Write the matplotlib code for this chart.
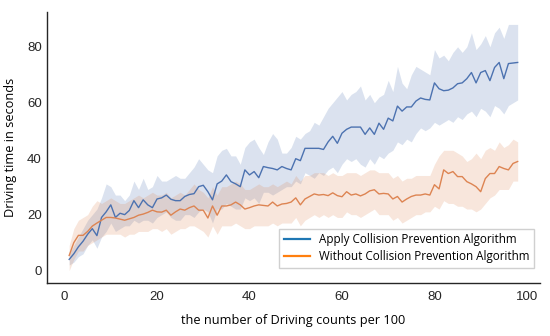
import numpy as np
import matplotlib
matplotlib.use('Agg')
import matplotlib.pyplot as plt
from matplotlib.lines import Line2D

plt.rcParams['font.family'] = ['Open Sans', 'DejaVu Sans']

# driving counts (x 100)
counts = list(range(1, 99))

# Apply Collision Prevention Algorithm: mean and band
apply_mean = [4, 6, 8.5, 10.5, 13, 15, 12.5, 19, 21, 23.5,
              19, 20.5, 20, 21.5, 25, 22.5, 25.3, 23.5, 22.5, 25.6,
              26, 27, 25.5, 25, 25, 26.5, 27.2, 27.5, 30, 30.5,
              28.2, 25.3, 31, 32, 34.2, 31.8, 31, 30, 36, 34.2,
              35.4, 33.2, 37.2, 36.8, 36.5, 36, 37.2, 36.5, 36, 40,
              39.3, 43.7, 43.7, 43.7, 43.7, 43.3, 46, 48, 45.5, 49.1,
              50.5, 51.3, 51.3, 51.3, 48.7, 51, 48.7, 52.7, 50.5, 54.5,
              53.5, 58.8, 57, 58.5, 58.5, 60.6, 61.7, 61.2, 61, 67.1,
              65, 64.3, 64.5, 65.3, 66.8, 67.1, 68.6, 70.8, 67.1, 70.8,
              71.5, 67.9, 72.6, 74.4, 68.6, 74, 74.2, 74.4]
apply_hi = [6, 9, 12, 15, 18, 20, 22, 26, 31, 30,
            27, 27, 25, 27, 32, 29, 33, 29, 30, 34,
            32, 32, 33, 34, 33, 33, 35, 37, 40, 38,
            36, 35, 41, 43, 43.7, 41, 41, 38, 44, 46,
            47, 44, 41.5, 46, 49, 47, 42, 42, 44, 48,
            47, 49, 50, 53, 52, 55, 58, 60, 62, 64,
            61, 63, 64, 66, 61, 63, 60, 62, 63, 68,
            64, 73, 67, 65, 70, 73, 72, 71, 70, 79,
            76, 77, 75, 78, 80, 78, 80, 85, 79, 81,
            84, 80, 85, 87, 83, 88, 88, 88]
apply_lo = [2, 3, 5, 6, 9, 11, 8, 12, 14, 17,
            14, 15, 16, 16, 18, 17, 18, 18, 17, 19,
            20, 21, 19, 18, 18, 20, 20, 19, 21, 22,
            21, 17, 22, 22, 24, 23, 22, 22, 26, 25,
            26, 24, 28, 28, 27, 28, 29, 30, 30, 32,
            31, 35, 34, 33, 35, 34, 36, 37, 35, 38,
            40, 39, 40, 38, 37, 40, 38, 41, 40, 42,
            43, 46, 45, 47, 46, 49, 51, 50, 51, 53,
            52, 53, 54, 53, 55, 54, 56, 57, 55, 58,
            57, 55, 59, 58, 56, 59, 60, 61]

# Without Collision Prevention Algorithm: mean and band
without_mean = [5.4, 10, 12.6, 12.6, 14, 15.9, 17, 18, 19, 19,
                18.8, 18.4, 18, 18.5, 19, 19.8, 20.2, 20.8, 21.6, 21,
                20.9, 21.6, 19.8, 21, 22, 21.6, 22.5, 23.1, 21.6, 21.6,
                18.8, 23.1, 19.8, 23.1, 23.1, 23.5, 24.5, 23.5, 22, 22.5,
                23.1, 23.5, 23.3, 23.1, 24.5, 23.1, 23.8, 24, 24.5, 26,
                23.5, 25.6, 26.5, 27.4, 27, 27.2, 26.8, 27.8, 26.8, 26.4,
                28.2, 27, 27.4, 26.7, 27.4, 28.5, 28.9, 27.4, 27.6, 27.4,
                25.6, 26.5, 24.5, 25.6, 26.5, 27, 27, 27.4, 27, 30.7,
                29.2, 36, 34.7, 35.4, 33.6, 33.6, 31.8, 31, 30, 28.2,
                32.9, 34.7, 34.7, 37.2, 36.5, 36, 38.3, 39]
without_hi = [9, 15, 18, 19, 20, 23, 25, 24, 25, 26,
              25, 24, 24, 25, 26, 27, 26, 27, 28, 27,
              27, 28, 26, 27, 28, 27, 29, 31, 29, 28,
              26, 30, 27, 30, 30, 31, 32, 31, 29, 29,
              30, 31, 30, 30, 31, 30, 31, 32, 31, 34,
              32, 34, 34, 35, 35, 35, 34, 35, 34, 34,
              35, 35, 35, 34, 35, 36, 36, 35, 35, 35,
              33, 34, 32, 33, 33, 34, 34, 34, 34, 38,
              41, 43, 43, 43, 42, 41, 39, 40, 42, 40,
              43, 44, 43, 46, 44, 45, 47, 46]
without_lo = [0, 4, 7, 7, 9, 10, 11, 12, 13, 13,
              13, 13, 12, 13, 13, 14, 14, 14, 15, 15,
              14, 15, 13, 14, 15, 15, 16, 16, 15, 14,
              12, 16, 13, 16, 16, 16, 17, 16, 15, 15,
              16, 16, 16, 16, 17, 16, 17, 17, 17, 19,
              16, 18, 19, 20, 19, 20, 19, 20, 19, 19,
              21, 20, 20, 19, 20, 21, 22, 20, 20, 20,
              18, 19, 17, 18, 19, 20, 20, 21, 21, 23,
              22, 25, 24, 24, 23, 23, 22, 22, 21, 22,
              24, 26, 27, 29, 29, 29, 32, 32]

blue = '#4c72b0'
orange = '#dd8452'

fig = plt.figure(figsize=(5.5, 3.36), dpi=100)
ax = fig.add_axes([0.085, 0.158, 0.897, 0.806])

ax.fill_between(counts, apply_lo, apply_hi, color=blue, alpha=0.2, linewidth=0)
ax.fill_between(counts, without_lo, without_hi, color=orange, alpha=0.2, linewidth=0)
ax.plot(counts, apply_mean, color=blue, lw=1)
ax.plot(counts, without_mean, color=orange, lw=1)

ax.set_xticks([0, 20, 40, 60, 80, 100])
ax.set_yticks([0, 20, 40, 60, 80])
ax.tick_params(length=0, labelsize=9.5, colors='#262626')
ax.tick_params(axis='x', pad=6)
ax.tick_params(axis='y', pad=3.5)
for lab in ax.get_xticklabels() + ax.get_yticklabels():
    lab.set_family(['Liberation Sans', 'DejaVu Sans'])
for side in ['top', 'right']:
    ax.spines[side].set_visible(False)
for side in ['left', 'bottom']:
    ax.spines[side].set_color('#262626')
    ax.spines[side].set_linewidth(1)

ax.set_xlabel('the number of Driving counts per 100', fontsize=9.2, labelpad=8)
ax.set_ylabel('Driving time in seconds', fontsize=9.2, labelpad=7)

handles = [Line2D([], [], color='#1f77b4', lw=1.6),
           Line2D([], [], color='#ff7f0e', lw=1.6)]
ax.legend(handles, ['Apply Collision Prevention Algorithm',
                    'Without Collision Prevention Algorithm'],
          loc='lower right', bbox_to_anchor=(1.0, 0.035), fontsize=8.4,
          frameon=True, edgecolor='#d0d0d0', fancybox=False, framealpha=1,
          handlelength=2.2, borderpad=0.4, labelspacing=0.3)

fig.savefig('out.png', dpi=100)
